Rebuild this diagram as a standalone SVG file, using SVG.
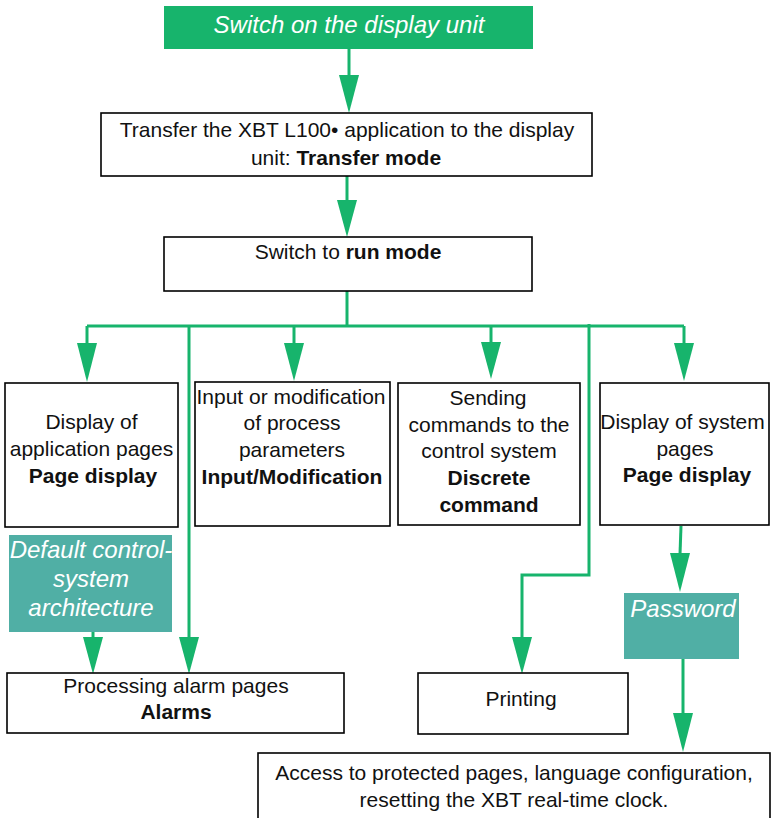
<svg xmlns="http://www.w3.org/2000/svg" width="771" height="818" viewBox="0 0 771 818">
<style>
.box{fill:#fff;stroke:#000;stroke-width:1.6}
.green{fill:#17b46c}
.teal{fill:#50afa5}
text{font-family:"Liberation Sans",Arial,sans-serif;font-size:21px;fill:#111;text-anchor:middle}
.b{font-weight:bold}
.it{font-style:italic;fill:#fff;font-size:24px}
.ln{fill:none;stroke:#17b46c;stroke-width:3}
.ah{fill:#17b46c}
</style>
<rect width="771" height="818" fill="#fff"/>
<g id="connectors">
<path class="ln" d="M349 49V76"/>
<polygon class="ah" points="339,75 359,75 349,113"/>
<path class="ln" d="M347 176V201"/>
<polygon class="ah" points="337,200 357,200 347,237"/>
<path class="ln" d="M347 291V326"/>
<path class="ln" d="M87 326H684"/>
<path class="ln" d="M87 326V344"/>
<polygon class="ah" points="77,343 97,343 87,382"/>
<path class="ln" d="M189 326V638"/>
<polygon class="ah" points="179,637 199,637 189,674"/>
<path class="ln" d="M294 326V344"/>
<polygon class="ah" points="284,343 304,343 294,381"/>
<path class="ln" d="M491 326V343"/>
<polygon class="ah" points="481,342 501,342 491,379"/>
<path class="ln" d="M684 326V344"/>
<polygon class="ah" points="674,343 694,343 684,381"/>
<path class="ln" d="M589 324V575H522V638"/>
<polygon class="ah" points="512,637 532,637 522,674"/>
<path class="ln" d="M681 526L680 554"/>
<polygon class="ah" points="670,553 690,553 680,592"/>
<path class="ln" d="M683 659V714"/>
<polygon class="ah" points="673,713 693,713 683,752"/>
<path class="ln" d="M93 632V638"/>
<polygon class="ah" points="83,637 103,637 93,674"/>
</g>
<g id="n-start">
<rect class="green" x="164" y="6" width="369" height="43"/>
<text class="it" x="349" y="33">Switch on the display unit</text>
</g>
<g id="n-transfer">
<rect class="box" x="101" y="113" width="491" height="63"/>
<text x="347" y="137">Transfer the XBT L100• application to the display</text>
<text x="346" y="165">unit: <tspan class="b">Transfer mode</tspan></text>
</g>
<g id="n-run">
<rect class="box" x="164" y="237" width="368" height="54"/>
<text x="348" y="259">Switch to <tspan class="b">run mode</tspan></text>
</g>
<g id="n-app-pages">
<rect class="box" x="5" y="383" width="173" height="144"/>
<text x="91.5" y="429">Display of</text>
<text x="91.5" y="456">application pages</text>
<text class="b" x="93" y="483">Page display</text>
</g>
<g id="n-input">
<rect class="box" x="195" y="382" width="195" height="144"/>
<text x="291" y="404">Input or modification</text>
<text x="292" y="430">of process</text>
<text x="292" y="457">parameters</text>
<text class="b" x="292" y="484">Input/Modification</text>
</g>
<g id="n-commands">
<rect class="box" x="398" y="383" width="182" height="142"/>
<text x="488" y="405">Sending</text>
<text x="489" y="432">commands to the</text>
<text x="489" y="458">control system</text>
<text class="b" x="489" y="485">Discrete</text>
<text class="b" x="489" y="512">command</text>
</g>
<g id="n-system-pages">
<rect class="box" x="600" y="383" width="169" height="142"/>
<text x="682.5" y="429">Display of system</text>
<text x="685" y="456">pages</text>
<text class="b" x="687" y="482">Page display</text>
</g>
<g id="n-default">
<rect class="teal" x="9" y="535" width="163" height="97"/>
<text class="it" x="91" y="558">Default control-</text>
<text class="it" x="91" y="587">system</text>
<text class="it" x="91" y="616">architecture</text>
</g>
<g id="n-password">
<rect class="teal" x="624" y="593" width="115" height="66"/>
<text class="it" x="683" y="617">Password</text>
</g>
<g id="n-alarms">
<rect class="box" x="7" y="673" width="337" height="60"/>
<text x="176" y="693">Processing alarm pages</text>
<text class="b" x="176" y="719">Alarms</text>
</g>
<g id="n-printing">
<rect class="box" x="418" y="673" width="210" height="61"/>
<text x="521" y="706">Printing</text>
</g>
<g id="n-access">
<rect class="box" x="258" y="753" width="512" height="80"/>
<text x="514" y="780">Access to protected pages, language configuration,</text>
<text x="514" y="807">resetting the XBT real-time clock.</text>
</g>
</svg>
